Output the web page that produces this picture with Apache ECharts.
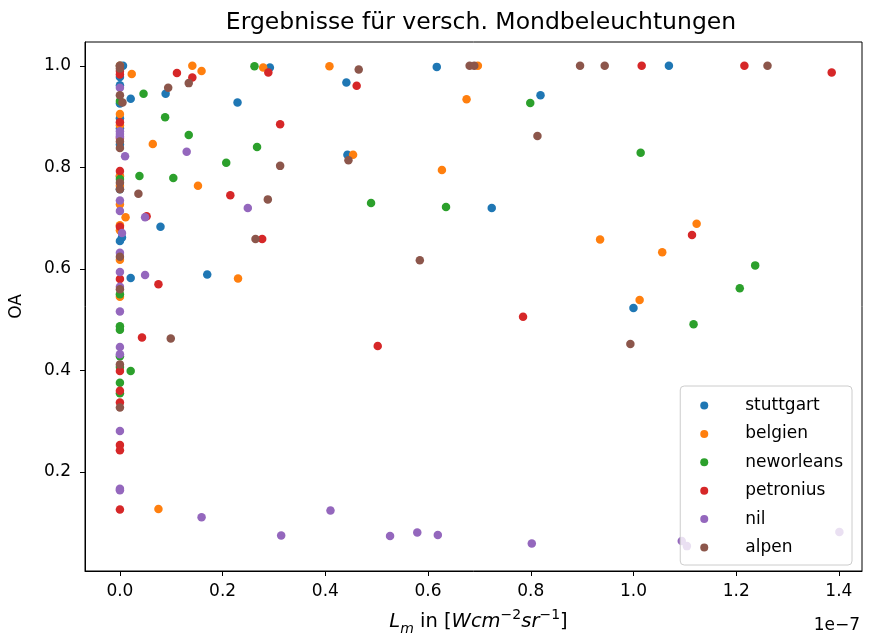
<!DOCTYPE html>
<html>
<head>
<meta charset="utf-8">
<script src="https://cdn.jsdelivr.net/npm/echarts@6/dist/echarts.min.js"></script>
<style>html,body{margin:0;padding:0;background:#fff}#c{width:876px;height:641px}</style>
</head>
<body>
<div id="c"></div>
<script>
// x values in units of 1e-7 W cm^-2 sr^-1, y = OA
const stuttgart = [[0.006,1.0],[0.021,0.935],[0.089,0.945],[0.229,0.928],[0.292,0.997],[0.441,0.967],[0.443,0.825],[0.617,0.998],[0.819,0.942],[0.724,0.72],[1.069,1.0],[1.0,0.523],[0.079,0.683],[0.17,0.589],[0.021,0.582],
  [0,1.0],[0,0.978],[0,0.962],[0,0.926],[0,0.897],[0,0.877],[0,0.845],[0,0.783],[0,0.757],[0.004,0.662],[0,0.655]];
const belgien = [[0.141,1.0],[0.159,0.99],[0.023,0.984],[0.279,0.997],[0.408,0.999],[0.064,0.846],[0.152,0.764],[0.011,0.702],[0.23,0.581],[0.075,0.127],[0.697,1.0],[0.675,0.934],[0.454,0.825],[0.627,0.795],[0.935,0.658],[1.123,0.689],[1.056,0.633],[1.012,0.539],
  [0,1.0],[0,0.905],[0,0.883],[0,0.783],[0,0.764],[0,0.727],[0,0.686],[0,0.676],[0,0.618],[0,0.545]];
const neworleans = [[0.262,0.999],[0.046,0.945],[0.088,0.899],[0.134,0.864],[0.267,0.84],[0.207,0.809],[0.038,0.783],[0.104,0.779],[0.021,0.399],[0.489,0.73],[0.635,0.722],[0.799,0.927],[1.014,0.829],[1.237,0.607],[1.207,0.562],[1.117,0.491],
  [0,0.931],[0,0.777],[0,0.55],[0,0.487],[0,0.48],[0,0.428],[0,0.407],[0,0.376],[0,0.355]];
const petronius = [[0.111,0.986],[0.141,0.977],[0.289,0.987],[0.312,0.885],[0.215,0.745],[0.052,0.704],[0.277,0.659],[0.075,0.57],[0.043,0.465],[0.461,0.961],[0.502,0.448],[0.785,0.506],[1.016,1.0],[1.216,1.0],[1.386,0.987],[1.114,0.667],
  [0,0.99],[0,0.983],[0,0.889],[0,0.858],[0,0.793],[0,0.683],[0,0.58],[0,0.399],[0,0.36],[0,0.337],[0,0.253],[0,0.243],[0,0.126]];
const nil = [[0.01,0.822],[0.13,0.831],[0.249,0.72],[0.049,0.702],[0.049,0.588],[0.159,0.111],[0.314,0.075],[0.41,0.124],[0.526,0.074],[0.579,0.081],[0.619,0.076],[0.802,0.059],[1.094,0.064],[1.104,0.054],[1.401,0.082],
  [0,0.957],[0,0.871],[0,0.866],[0,0.861],[0,0.735],[0,0.714],[0.004,0.671],[0,0.632],[0,0.594],[0,0.565],[0,0.516],[0,0.446],[0,0.432],[0,0.281],[0,0.167],[0,0.164]];
const alpen = [[0.094,0.957],[0.134,0.966],[0.312,0.803],[0.036,0.748],[0.288,0.737],[0.264,0.659],[0.099,0.463],[0.465,0.993],[0.445,0.814],[0.681,1.0],[0.69,1.0],[0.813,0.862],[0.584,0.617],[0.896,1.0],[0.944,1.0],[1.261,1.0],[0.994,0.452],
  [0,1.0],[0,0.995],[0,0.942],[0.005,0.928],[0,0.851],[0,0.838],[0,0.770],[0,0.757],[0,0.624],[0,0.56],[0,0.412],[0,0.327]];

const seriesNames = ['stuttgart','belgien','neworleans','petronius','nil','alpen'];
const seriesData = [stuttgart, belgien, neworleans, petronius, nil, alpen];
const colors = ['#1f77b4','#ff7f0e','#2ca02c','#d62728','#9467bd','#8c564b'];
const xTicks = [0.0, 0.2, 0.4, 0.6, 0.8, 1.0, 1.2, 1.4];
const yTicks = [0.2, 0.4, 0.6, 0.8, 1.0];

const FONT = 'DejaVu Sans';
const FS = 17;
const chart = echarts.init(document.getElementById('c'), null, {renderer: 'canvas'});
chart.setOption({
  animation: false,
  color: colors,
  textStyle: {fontFamily: FONT},
  title: {
    text: 'Ergebnisse für versch. Mondbeleuchtungen',
    left: 476, top: 6, textAlign: 'center',
    textStyle: {fontFamily: FONT, fontSize: 23.5, fontWeight: 'normal', color: '#000'}
  },
  grid: {left: 85, right: 14, top: 42, bottom: 63, show: true, borderColor: '#000', borderWidth: 1, backgroundColor: 'transparent'},
  xAxis: {
    type: 'value', min: -0.068, max: 1.445,
    splitLine: {show: false},
    axisLine: {show: true, onZero: false, lineStyle: {color: '#000', width: 1}},
    axisTick: {show: true, inside: false, length: 5, lineStyle: {color: '#000'}, customValues: xTicks},
    axisLabel: {customValues: xTicks, formatter: v => v.toFixed(1), color: '#000', fontSize: FS, fontFamily: FONT, margin: 12},
    name: '{i|L}{sub|m}{n| in [}{i|Wcm}{sup|−2}{i|sr}{sup|−1}{n|]}',
    nameLocation: 'middle', nameGap: 37,
    nameTextStyle: {
      padding: [0, 0, 0, 10],
      rich: {
        i: {fontFamily: FONT, fontStyle: 'italic', fontSize: 19.5, color: '#000', lineHeight: 28},
        n: {fontFamily: FONT, fontSize: 19.5, color: '#000', lineHeight: 28},
        sub: {fontFamily: FONT, fontStyle: 'italic', fontSize: 14, color: '#000', lineHeight: 28, verticalAlign: 'bottom'},
        sup: {fontFamily: FONT, fontSize: 14, color: '#000', lineHeight: 28, verticalAlign: 'top'}
      }
    }
  },
  yAxis: {
    type: 'value', min: 0.005, max: 1.047,
    splitLine: {show: false},
    axisLine: {show: true, onZero: false, lineStyle: {color: '#000', width: 1}},
    axisTick: {show: true, inside: false, length: 5, lineStyle: {color: '#000'}, customValues: yTicks},
    axisLabel: {customValues: yTicks, formatter: v => v.toFixed(1), color: '#000', fontSize: FS, fontFamily: FONT, margin: 14},
    name: 'OA', nameLocation: 'middle', nameGap: 60, nameRotate: 90,
    nameTextStyle: {fontFamily: FONT, fontSize: FS, color: '#000'}
  },
  legend: {
    data: seriesNames,
    orient: 'vertical', right: 24, top: 386,
    icon: 'circle', itemWidth: 20, itemHeight: 8, itemGap: 9.4,
    padding: [10, 9, 8, 20],
    backgroundColor: 'rgba(255,255,255,0.8)', borderColor: '#cccccc', borderWidth: 1, borderRadius: 4,
    textStyle: {fontFamily: FONT, fontSize: FS, color: '#000', lineHeight: 19, padding: [0, 0, 0, 26]}
  },
  graphic: [{
    type: 'text', right: 16, top: 617,
    style: {text: '1e−7', font: '17px "DejaVu Sans"', fill: '#000'}
  }],
  series: seriesNames.map((n, i) => ({
    name: n, type: 'scatter', data: seriesData[i], symbol: 'circle', symbolSize: 8.5,
    itemStyle: {color: colors[i], opacity: 1}, z: 2
  }))
});
</script>
</body>
</html>
